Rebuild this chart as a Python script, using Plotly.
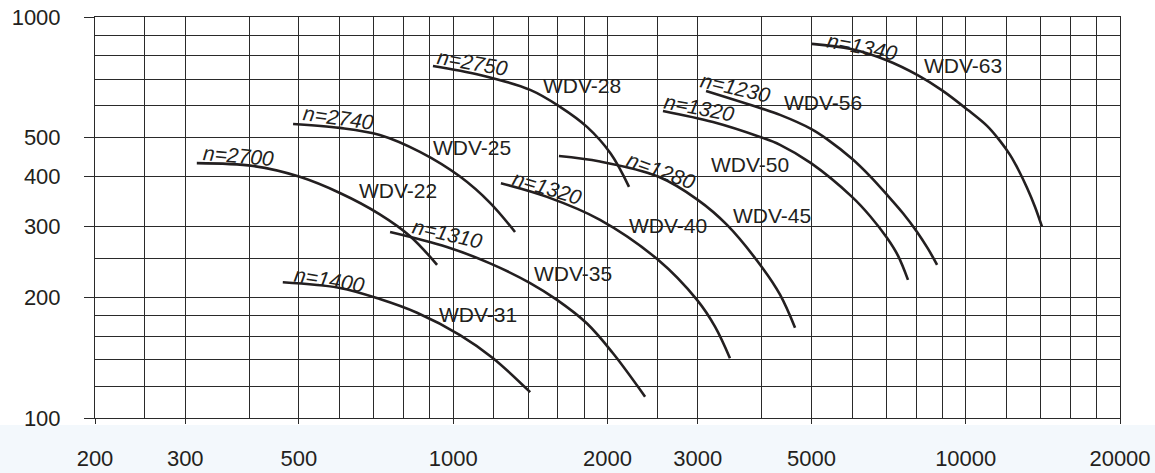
import plotly.graph_objects as go

# ---------------- data (flow Q, pressure p) ----------------
wdv22_q = [316, 407, 500, 601, 719, 824, 930]
wdv22_p = [432, 425, 400, 364, 322, 284, 241]

wdv25_q = [487, 601, 719, 861, 1031, 1180, 1320]
wdv25_p = [541, 529, 508, 461, 400, 344, 291]

wdv28_q = [913, 1128, 1413, 1616, 1824, 2030, 2203]
wdv28_p = [755, 717, 658, 597, 532, 456, 377]

wdv31_q = [465, 601, 719, 850, 1031, 1196, 1413]
wdv31_p = [218, 211, 198, 183, 161, 141, 116]

wdv35_q = [753, 972, 1180, 1413, 1594, 1824, 2050, 2368]
wdv35_p = [291, 267, 243, 217, 197, 172, 145, 113]

wdv40_q = [1239, 1524, 1934, 2510, 2990, 3242, 3467]
wdv40_p = [385, 356, 312, 248, 197, 169, 141]

wdv45_q = [1608, 1934, 2510, 3000, 3422, 4000, 4342, 4645]
wdv45_p = [450, 436, 400, 350, 303, 238, 203, 168]

wdv50_q = [2566, 3213, 3970, 4342, 4990, 6000, 6504, 7024, 7376, 7716]
wdv50_p = [583, 547, 502, 480, 432, 356, 319, 281, 254, 221]

wdv56_q = [3114, 3970, 4342, 4990, 5361, 6000, 6504, 7024, 7544, 8037, 8444, 8793]
wdv56_p = [654, 593, 570, 526, 496, 443, 401, 360, 324, 291, 264, 241]

wdv63_q = [5012, 5974, 6990, 8073, 8993, 10100, 11005, 11664, 12202, 12704,
           13170, 13654, 14086]
wdv63_p = [857, 832, 781, 715, 656, 586, 535, 491, 453, 413, 375, 336, 300]

curves = [
    (wdv22_q, wdv22_p), (wdv25_q, wdv25_p), (wdv28_q, wdv28_p),
    (wdv31_q, wdv31_p), (wdv35_q, wdv35_p), (wdv40_q, wdv40_p),
    (wdv45_q, wdv45_p), (wdv50_q, wdv50_p), (wdv56_q, wdv56_p),
    (wdv63_q, wdv63_p),
]

model_names = ["WDV-22", "WDV-25", "WDV-28", "WDV-31", "WDV-35",
               "WDV-40", "WDV-45", "WDV-50", "WDV-56", "WDV-63"]
speed_labels = ["n=2700", "n=2740", "n=2750", "n=1400", "n=1310",
                "n=1320", "n=1280", "n=1320", "n=1230", "n=1340"]

x_ticks = [200, 300, 500, 1000, 2000, 3000, 5000, 10000, 20000]
x_minor = [250, 400, 600, 700, 800, 900, 1200, 1400, 1600, 1800, 2500,
           4000, 6000, 7000, 8000, 9000, 12000, 14000, 16000, 18000]
y_ticks = [100, 200, 300, 400, 500, 1000]
y_minor = [120, 140, 160, 180, 250, 600, 700, 800, 900]

# ---------------- layout geometry ----------------
W, H = 1155, 473
L, R, T, B = 95, 35, 17, 55
PW, PH = W - L - R, H - T - B


def paper(px, py):
    return (px - L) / PW, (H - B - py) / PH


# label pixel positions (centres) and rotations
name_pos = [(398, 191), (472, 147), (582, 85), (478, 314), (573, 273),
            (668, 225), (772, 216), (750, 164), (823, 102), (963, 65)]
speed_pos = [(238, 156), (338, 118), (472, 63), (329, 279), (447, 234),
             (547, 187), (661, 170), (699, 107), (735, 88), (862, 46)]
speed_angle = [5, 8, 10, 9, 13, 17, 20, 11, 13, 11]

INK = "#231f20"
GRID = "#2a2a2a"
FONT = "Arial, Liberation Sans, sans-serif"

fig = go.Figure()
for q, p in curves:
    fig.add_trace(go.Scatter(x=q, y=p, mode="lines",
                             line=dict(color=INK, width=2.6, shape="spline", smoothing=1.0),
                             hoverinfo="skip", showlegend=False))

annotations = []
for name, (px, py) in zip(model_names, name_pos):
    ax, ay = paper(px, py)
    annotations.append(dict(x=ax, y=ay, xref="paper", yref="paper", text=name,
                            showarrow=False, font=dict(size=21, color=INK, family=FONT),
                            xanchor="center", yanchor="middle"))
for lab, (px, py), ang in zip(speed_labels, speed_pos, speed_angle):
    ax, ay = paper(px, py)
    annotations.append(dict(x=ax, y=ay, xref="paper", yref="paper",
                            text="<i>" + lab + "</i>", textangle=ang,
                            showarrow=False, font=dict(size=21, color=INK, family=FONT),
                            xanchor="center", yanchor="middle"))

# light blue band under the plot
bx0, by0 = paper(0, H)
bx1, by1 = paper(W, 425)
shapes = [dict(type="rect", xref="paper", yref="paper", x0=bx0, x1=bx1, y0=by0, y1=by1,
               fillcolor="#f3f8fc", line=dict(width=0), layer="below")]

fig.update_layout(
    width=W, height=H,
    margin=dict(l=L, r=R, t=T, b=B, pad=0, autoexpand=False),
    paper_bgcolor="white", plot_bgcolor="white",
    font=dict(family=FONT, size=22, color=INK),
    annotations=annotations, shapes=shapes,
    showlegend=False,
)
fig.update_xaxes(
    type="log", range=[2.30103, 4.30103], automargin=False,
    tickvals=x_ticks, ticktext=[str(v) for v in x_ticks],
    ticks="outside", ticklen=5, tickcolor=GRID, tickwidth=1,
    ticklabelstandoff=16,
    showgrid=True, gridcolor=GRID, gridwidth=1,
    minor=dict(tickvals=x_minor, showgrid=True, gridcolor=GRID, gridwidth=1, ticks=""),
    showline=True, mirror=True, linecolor=GRID, linewidth=1,
    zeroline=False, tickfont=dict(size=22, color=INK, family=FONT),
)
fig.update_yaxes(
    type="log", range=[2, 3], automargin=False,
    tickvals=y_ticks, ticktext=[str(v) for v in y_ticks],
    ticks="outside", ticklen=10, tickcolor=GRID, tickwidth=1,
    ticklabelstandoff=19,
    showgrid=True, gridcolor=GRID, gridwidth=1,
    minor=dict(tickvals=y_minor, showgrid=True, gridcolor=GRID, gridwidth=1, ticks=""),
    showline=True, mirror=True, linecolor=GRID, linewidth=1,
    zeroline=False, tickfont=dict(size=22, color=INK, family=FONT),
)

fig.write_html(
    "out.html",
    config={"displayModeBar": False},
    post_script="document.body.style.margin='0';document.body.style.overflow='hidden';",
)
